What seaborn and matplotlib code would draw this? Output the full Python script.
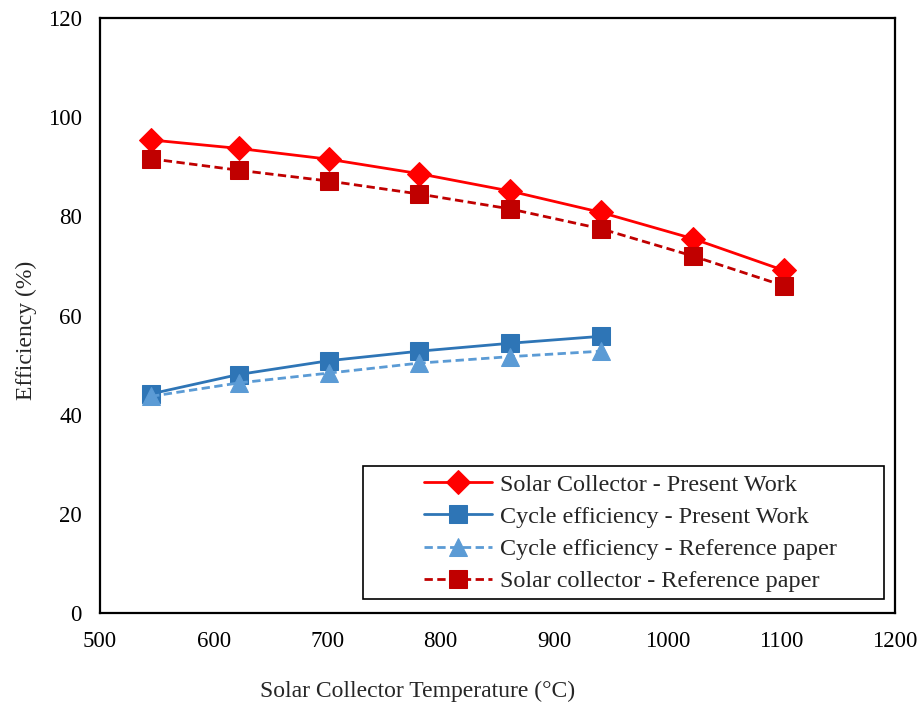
import matplotlib
matplotlib.use("Agg")
import matplotlib.pyplot as plt
import seaborn as sns
import pandas as pd
from matplotlib.patches import Rectangle

# Collector temperatures (°C)
temp_solar = [545, 622, 702, 781, 861, 941, 1022, 1102]
temp_cycle = [545, 622, 702, 781, 861, 941]

# Efficiencies (%)
solar_present = [95.4, 93.7, 91.5, 88.6, 85.1, 80.8, 75.5, 69.1]
cycle_present = [44.2, 48.1, 50.9, 52.8, 54.4, 55.8]
cycle_reference = [43.7, 46.4, 48.4, 50.4, 51.7, 52.8]
solar_reference = [91.6, 89.3, 87.1, 84.5, 81.5, 77.5, 72.0, 66.0]

labels = [
    "Solar Collector - Present Work",
    "Cycle efficiency - Present Work",
    "Cycle efficiency - Reference paper",
    "Solar collector - Reference paper",
]

sns.set_style("white")
plt.rcParams["font.family"] = ["Liberation Serif", "DejaVu Serif"]

fig = plt.figure(figsize=(9.22, 7.07), dpi=100)
ax = fig.add_axes([100 / 922, 1 - 613 / 707, 795 / 922, 595 / 707])

series = [
    (temp_solar, solar_present, labels[0], "#FF0000", "-", "D", 12),
    (temp_cycle, cycle_present, labels[1], "#2E75B6", "-", "s", 13),
    (temp_cycle, cycle_reference, labels[2], "#5B9BD5", (0, (3, 1.6)), "^", 12.5),
    (temp_solar, solar_reference, labels[3], "#C00000", (0, (3, 1.6)), "s", 12.5),
]

for xs, ys, lab, col, ls, mk, ms in series:
    df = pd.DataFrame({"T": xs, "eff": ys})
    sns.lineplot(data=df, x="T", y="eff", ax=ax, color=col, linestyle=ls,
                 linewidth=2.0, marker=mk, markersize=ms,
                 markeredgecolor=col, markerfacecolor=col, label=lab)

ax.set_xlim(500, 1200)
ax.set_ylim(0, 120)
ax.set_xticks(range(500, 1201, 100))
ax.set_yticks(range(0, 121, 20))
ax.tick_params(axis="both", length=0, labelsize=16.5, colors="black")
ax.tick_params(axis="x", pad=13)
ax.tick_params(axis="y", pad=13)
ax.set_xlabel("")
ax.set_ylabel("")
for s in ax.spines.values():
    s.set_color("black")
    s.set_linewidth(1.6)
    s.set_visible(True)

fig.text(418 / 922, 1 - 691 / 707, "Solar Collector Temperature (°C)",
         ha="center", va="center", fontsize=17)
fig.text(26 / 922, 1 - 330 / 707, "Efficiency (%)", rotation=90,
         ha="center", va="center", fontsize=17)

handles, labs = ax.get_legend_handles_labels()
ax.legend(handles, labs, loc="center left",
          bbox_to_anchor=(424 / 922, 1 - 533 / 707),
          bbox_transform=fig.transFigure, frameon=False, borderpad=0,
          borderaxespad=0, handlelength=2.8, handletextpad=0.33,
          labelspacing=0.42, fontsize=17.4)

fig.patches.append(Rectangle((363 / 922, 1 - 599 / 707), (884 - 363) / 922,
                             (599 - 466) / 707, transform=fig.transFigure,
                             fill=False, edgecolor="black", linewidth=1.2,
                             zorder=5))

fig.savefig("out.png", dpi=100)
